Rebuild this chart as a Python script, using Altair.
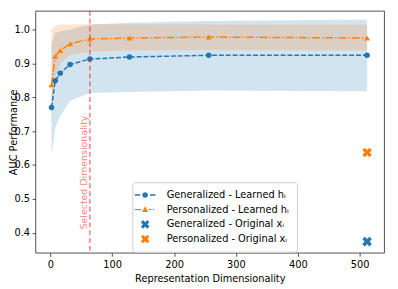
import altair as alt
import pandas as pd
import numpy as np

# ---------------- data ----------------
dims = [2, 8, 16, 32, 64, 128, 256, 512]
gen_mean = [0.770, 0.849, 0.871, 0.897, 0.913, 0.919, 0.924, 0.924]
gen_low = [0.628, 0.710, 0.745, 0.790, 0.813, 0.816, 0.820, 0.818]
gen_high = [0.960, 0.990, 0.995, 1.000, 1.015, 1.020, 1.025, 1.030]
per_mean = [0.837, 0.921, 0.938, 0.958, 0.972, 0.975, 0.978, 0.975]
per_low = [0.714, 0.860, 0.900, 0.925, 0.935, 0.938, 0.940, 0.938]
per_high = [1.000, 1.012, 1.015, 1.015, 1.016, 1.016, 1.015, 1.014]

orig_series = ["Generalized - Original xᵢ", "Personalized - Original xᵢ"]
orig_dim = [512, 512]
orig_auc = [0.374, 0.637]

legend_labels = ["Generalized - Learned hᵢ", "Personalized - Learned hᵢ",
                 "Generalized - Original xᵢ", "Personalized - Original xᵢ"]

selected_dim = [64]
annot_text = ["Selected Dimensionality"]
annot_y = [0.41]

x_ticks = [0, 100, 200, 300, 400, 500]
y_ticks = [0.4, 0.5, 0.6, 0.7, 0.8, 0.9, 1.0]

BLUE = "#1f77b4"
ORANGE = "#ff7f0e"

gen = pd.DataFrame({"dim": dims, "mean": gen_mean, "low": gen_low, "high": gen_high})
per = pd.DataFrame({"dim": dims, "mean": per_mean, "low": per_low, "high": per_high})
orig = pd.DataFrame({"series": orig_series, "dim": orig_dim, "auc": orig_auc})
sel = pd.DataFrame({"dim": selected_dim, "text": annot_text, "y": annot_y})

# ---------------- symbol paths (legend / markers); 1 unit = 5 px in legend ----------------
def rect(x0, x1, h=0.14):
    return f"M{x0},{-h}H{x1}V{h}H{x0}Z"

def circle(r=0.58):
    return f"M{r},0A{r},{r},0,1,1,{-r},0A{r},{r},0,1,1,{r},0Z"

tri = "M0,-0.68L0.62,0.45L-0.62,0.45Z"

def xpath(w=0.32, L=0.92):
    pts = [(-w, -L), (w, -L), (w, -w), (L, -w), (L, w), (w, w), (w, L), (-w, L),
           (-w, w), (-L, w), (-L, -w), (-w, -w)]
    c = np.cos(np.pi / 4)
    rp = [((x - y) * c, (x + y) * c) for x, y in pts]
    return "M" + "L".join(f"{x:.3f},{y:.3f}" for x, y in rp) + "Z"

blue_sym = rect(-2.1, -1.0) + circle() + rect(1.0, 2.1)
orange_sym = rect(-2.1, -0.75) + tri + rect(0.75, 1.3) + rect(1.6, 1.85)
x_sym = xpath()

# ---------------- encodings ----------------
x_scale = alt.Scale(domain=[-24, 539.5], nice=False, zero=False)
y_scale = alt.Scale(domain=[0.341, 1.0553], nice=False, zero=False)
x_axis = alt.Axis(title="Representation Dimensionality", values=x_ticks, titlePadding=4, labelPadding=3.5)
y_axis = alt.Axis(title="AUC Performance", values=y_ticks, format=".1f", labelPadding=2.5,
                  titleX=-17, titleY=123.5, titleBaseline="bottom", titleAlign="center", titleAngle=270)

def X(field="dim"):
    return alt.X(f"{field}:Q", scale=x_scale, axis=x_axis)

def Y(field):
    return alt.Y(f"{field}:Q", scale=y_scale, axis=y_axis)

layers = []
for df, col in [(gen, BLUE), (per, ORANGE)]:
    layers.append(alt.Chart(df).mark_area(color=col, opacity=0.2, line=False).encode(
        x=X(), y=Y("low"), y2="high:Q"))

layers.append(alt.Chart(gen).mark_line(color=BLUE, strokeWidth=1.5, strokeDash=[5, 2]).encode(
    x=X(), y=Y("mean")))
layers.append(alt.Chart(per).mark_line(color=ORANGE, strokeWidth=1.5, strokeDash=[8, 2, 1.5, 2]).encode(
    x=X(), y=Y("mean")))
layers.append(alt.Chart(gen).mark_point(color=BLUE, filled=True, opacity=1, size=32, shape="circle").encode(
    x=X(), y=Y("mean")))
layers.append(alt.Chart(per).mark_point(color=ORANGE, filled=True, opacity=1, size=36, shape="triangle-up").encode(
    x=X(), y=Y("mean")))

layers.append(alt.Chart(sel).mark_rule(color="red", opacity=0.6, strokeWidth=1.3, strokeDash=[5, 3]).encode(
    x=X()))
layers.append(alt.Chart(sel).mark_text(color="red", opacity=0.5, angle=270, align="left",
                                       baseline="bottom", fontSize=9.6, dy=-1).encode(
    x=X(), y=Y("y"), text="text:N"))

leg = alt.Legend(title=None, orient="none", legendX=99, legendY=175,
                 symbolSize=100, symbolStrokeWidth=0, symbolOpacity=1,
                 labelFontSize=10, labelOffset=17, padding=8, rowPadding=5,
                 strokeColor="#cccccc", fillColor="white", cornerRadius=3,
                 labelLimit=0)

layers.append(alt.Chart(orig).mark_point(filled=True, opacity=1, size=125).encode(
    x=X(), y=Y("auc"),
    color=alt.Color("series:N", scale=alt.Scale(domain=legend_labels, range=[BLUE, ORANGE, BLUE, ORANGE]),
                    legend=leg),
    shape=alt.Shape("series:N", scale=alt.Scale(domain=legend_labels,
                                                range=[blue_sym, orange_sym, x_sym, x_sym]),
                    legend=leg),
))

chart = alt.layer(*layers).properties(
    width=356, height=247,
    autosize=alt.AutoSizeParams(type="none"),
    padding={"left": 28, "top": 0, "right": 6, "bottom": 30},
).configure(font="DejaVu Sans").configure_view(
    stroke="#222222", strokeWidth=0.8
).configure_axis(
    grid=False, domain=False, tickColor="#222222", tickSize=3.5, tickWidth=0.8,
    labelColor="black", titleColor="black", labelFontSize=10, titleFontSize=10,
    titleFontWeight="normal", titlePadding=1,
)

chart.save("out.html", embed_options={"renderer": "svg", "actions": False})
